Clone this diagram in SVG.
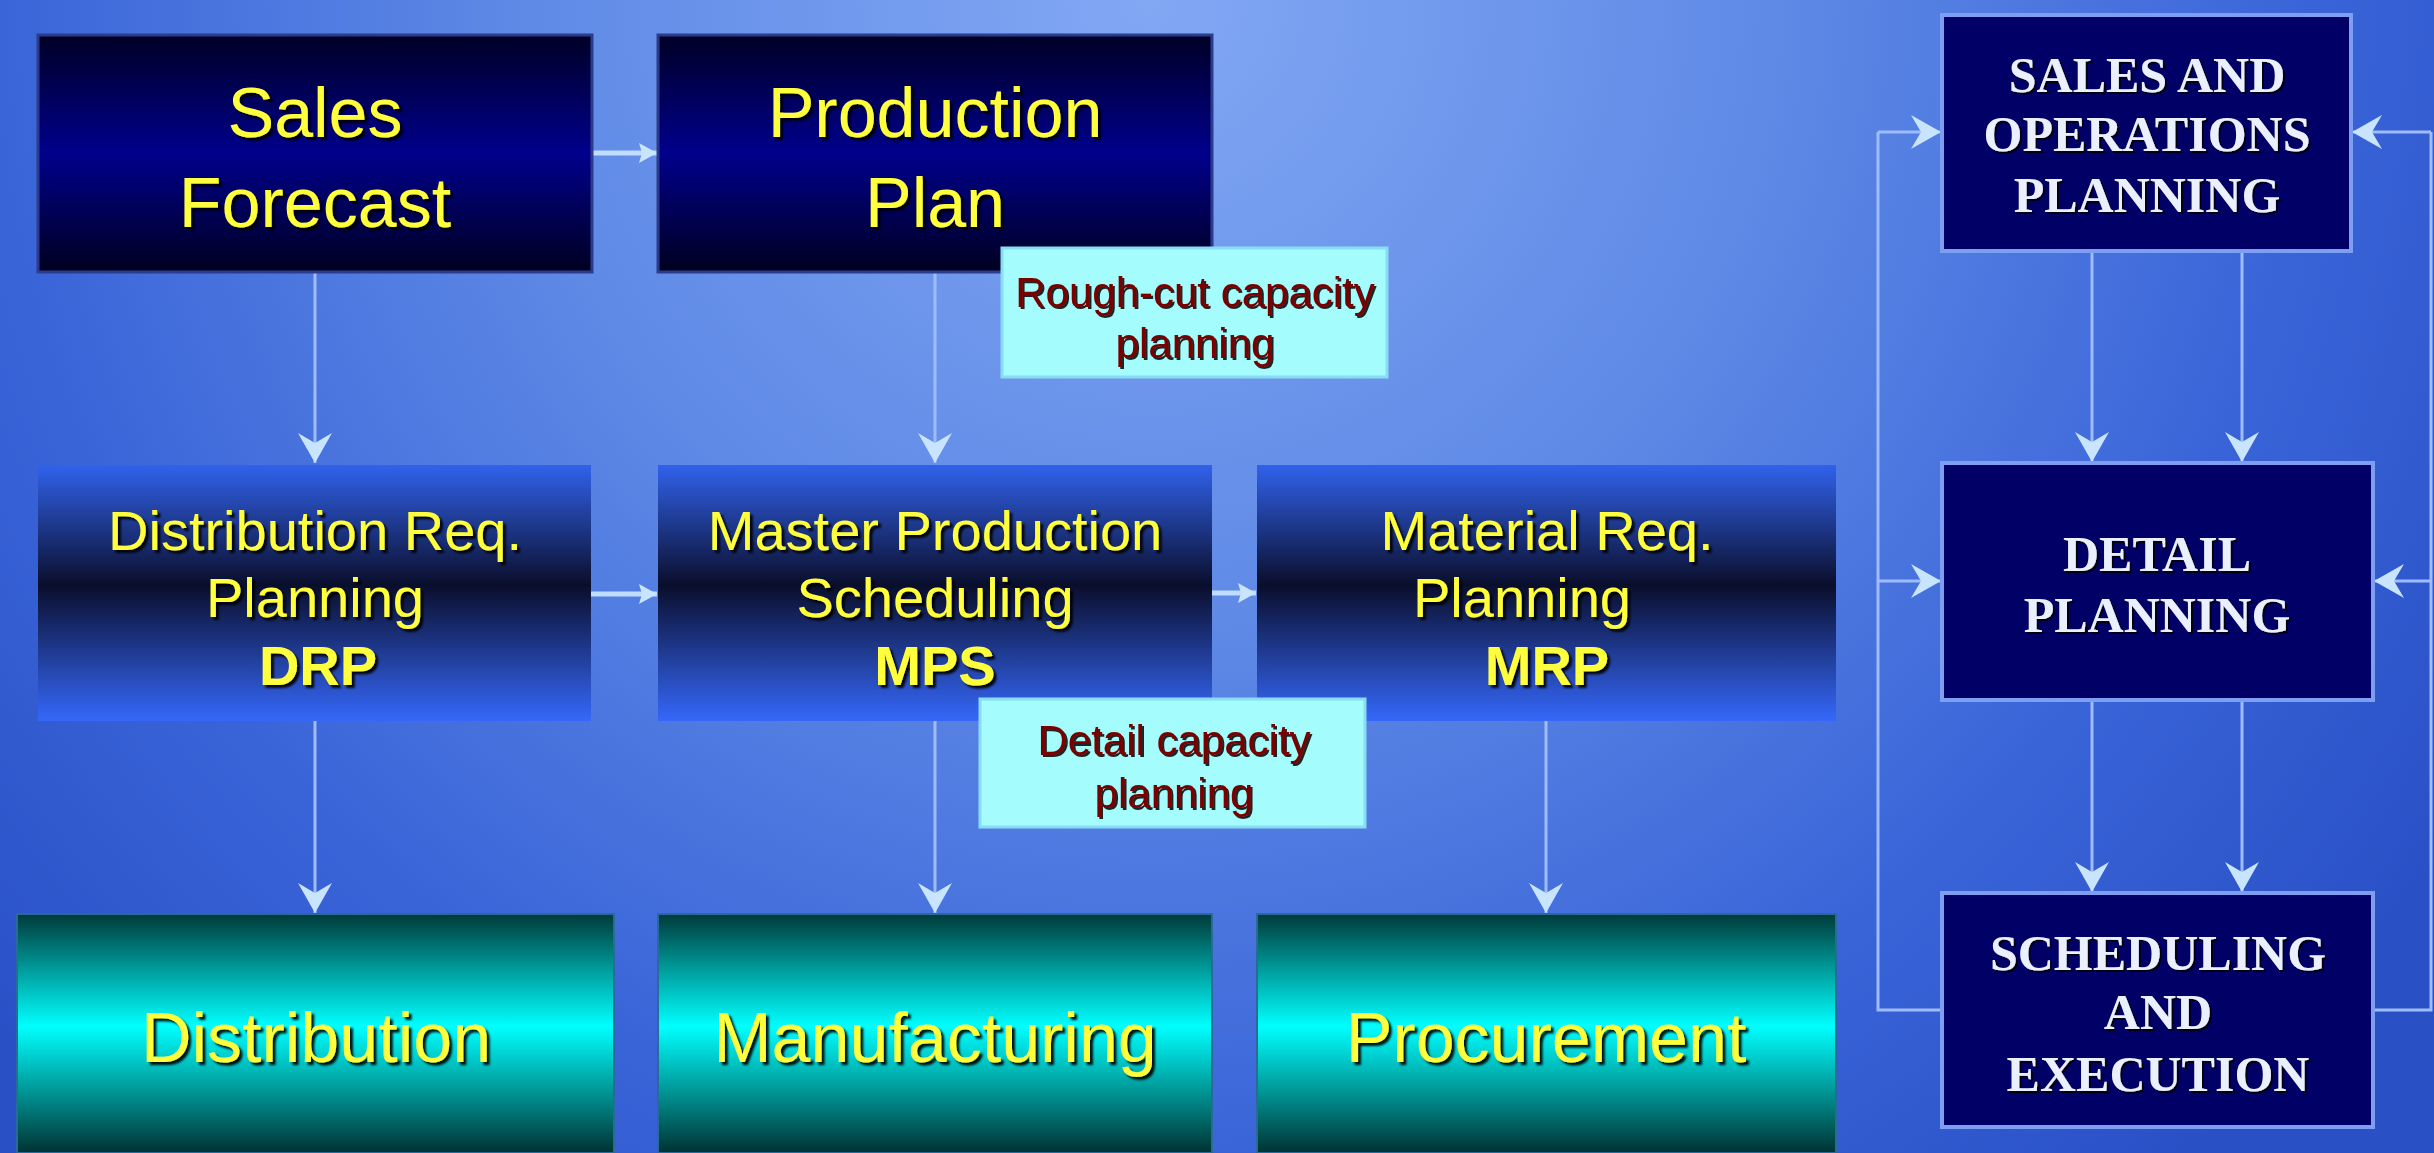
<svg xmlns="http://www.w3.org/2000/svg" width="2434" height="1153" viewBox="0 0 2434 1153">
<defs>
<radialGradient id="bg" gradientUnits="userSpaceOnUse" cx="1150" cy="0" r="1550">
<stop offset="0" stop-color="#82a8f4"/>
<stop offset="0.4" stop-color="#5f8ae6"/>
<stop offset="0.75" stop-color="#3964d8"/>
<stop offset="1" stop-color="#2a50c6"/>
</radialGradient>
<linearGradient id="g1" x1="0" y1="0" x2="0" y2="1">
<stop offset="0" stop-color="#000026"/>
<stop offset="0.5" stop-color="#00008c"/>
<stop offset="1" stop-color="#000020"/>
</linearGradient>
<linearGradient id="g2" x1="0" y1="0" x2="0" y2="1">
<stop offset="0" stop-color="#3162ec"/>
<stop offset="0.47" stop-color="#0a0e2c"/>
<stop offset="1" stop-color="#3568fa"/>
</linearGradient>
<linearGradient id="g3" x1="0" y1="0" x2="0" y2="1">
<stop offset="0" stop-color="#003a3a"/>
<stop offset="0.47" stop-color="#00ffff"/>
<stop offset="1" stop-color="#003232"/>
</linearGradient>
<filter id="sh" x="-10%" y="-20%" width="130%" height="150%">
<feDropShadow dx="3" dy="3" stdDeviation="0.8" flood-color="#000000" flood-opacity="0.9"/>
</filter>
<filter id="sh2" x="-10%" y="-20%" width="130%" height="150%">
<feDropShadow dx="2" dy="2" stdDeviation="0.6" flood-color="#000000" flood-opacity="0.85"/>
</filter>
<marker id="stealth" markerUnits="userSpaceOnUse" viewBox="-31 -18 32 36" markerWidth="32" markerHeight="36" refX="0" refY="0" orient="auto">
<path d="M0,0 L-30,-17 L-20,0 L-30,17 Z" fill="#c8e4ff"/>
</marker>
<marker id="tri" markerUnits="userSpaceOnUse" viewBox="-19 -11 20 22" markerWidth="20" markerHeight="22" refX="0" refY="0" orient="auto">
<path d="M0,0 L-18,-10 L-15,0 L-18,10 Z" fill="#c8e4ff"/>
</marker>
</defs>
<style>
.sans{font-family:"Liberation Sans",Arial,sans-serif;}
.ylw{fill:#ffff3c;text-anchor:middle;filter:url(#sh);}
.big{font-size:70px;}
.mid{font-size:56px;}
.bold{font-weight:bold;}
.serif{font-family:"Liberation Serif","Times New Roman",serif;font-weight:bold;font-size:50px;fill:#eaf0ff;text-anchor:middle;filter:url(#sh2);}
.cap{font-size:42px;fill:#7a0000;text-anchor:middle;filter:url(#sh2);}
.rbox{fill:#000066;stroke:#7e9ef2;stroke-width:4;}
.cbox{fill:#a4fcfc;stroke:#88ddf4;stroke-width:3;}
.ln{fill:none;stroke:#9ebcff;stroke-width:3;}
.lnv{fill:none;stroke:#9ebcff;stroke-width:3;marker-end:url(#stealth);}
.lnh{fill:none;stroke:#c0dcff;stroke-width:5;marker-end:url(#tri);}
</style>
<rect x="0" y="0" width="2434" height="1153" fill="url(#bg)"/>

<g id="connectors">
<line class="lnh" x1="592" y1="153" x2="657" y2="153"/>
<line class="lnh" x1="591" y1="594" x2="657" y2="594"/>
<line class="lnh" x1="1212" y1="593" x2="1256" y2="593"/>
<line class="lnv" x1="315" y1="272" x2="315" y2="463"/>
<line class="lnv" x1="935" y1="272" x2="935" y2="463"/>
<line class="lnv" x1="315" y1="721" x2="315" y2="913"/>
<line class="lnv" x1="935" y1="721" x2="935" y2="913"/>
<line class="lnv" x1="1546" y1="721" x2="1546" y2="913"/>
<line class="lnv" x1="2092" y1="251" x2="2092" y2="462"/>
<line class="lnv" x1="2242" y1="251" x2="2242" y2="462"/>
<line class="lnv" x1="2092" y1="700" x2="2092" y2="892"/>
<line class="lnv" x1="2242" y1="700" x2="2242" y2="892"/>
<polyline class="ln" points="1942,1010 1878,1010 1878,132"/>
<line class="lnv" x1="1878" y1="132" x2="1941" y2="132"/>
<line class="lnv" x1="1878" y1="581" x2="1941" y2="581"/>
<polyline class="ln" points="2373,1010 2431,1010 2431,132"/>
<line class="lnv" x1="2431" y1="132" x2="2352" y2="132"/>
<line class="lnv" x1="2431" y1="581" x2="2374" y2="581"/>
</g>

<g id="sales-forecast">
<rect x="38" y="35" width="554" height="237" fill="url(#g1)" stroke="#2c3c8c" stroke-width="3"/>
<text class="sans ylw big" x="315" y="137">Sales</text>
<text class="sans ylw big" x="315" y="227">Forecast</text>
</g>
<g id="production-plan">
<rect x="658" y="35" width="554" height="237" fill="url(#g1)" stroke="#2c3c8c" stroke-width="3"/>
<text class="sans ylw big" x="935" y="137">Production</text>
<text class="sans ylw big" x="935" y="227">Plan</text>
</g>
<g id="rough-cut">
<rect class="cbox" x="1002" y="248" width="385" height="129"/>
<text class="sans cap" x="1195" y="307">Rough-cut capacity</text>
<text class="sans cap" x="1195" y="358">planning</text>
</g>

<g id="drp">
<rect x="38" y="465" width="553" height="256" fill="url(#g2)"/>
<text class="sans ylw mid" x="315" y="550">Distribution Req.</text>
<text class="sans ylw mid" x="315" y="617">Planning</text>
<text class="sans ylw mid bold" x="318" y="685">DRP</text>
</g>
<g id="mps">
<rect x="658" y="465" width="554" height="256" fill="url(#g2)"/>
<text class="sans ylw mid" x="935" y="550">Master Production</text>
<text class="sans ylw mid" x="935" y="617">Scheduling</text>
<text class="sans ylw mid bold" x="935" y="685">MPS</text>
</g>
<g id="mrp">
<rect x="1257" y="465" width="579" height="256" fill="url(#g2)"/>
<text class="sans ylw mid" x="1547" y="550">Material Req.</text>
<text class="sans ylw mid" x="1522" y="617">Planning</text>
<text class="sans ylw mid bold" x="1547" y="685">MRP</text>
</g>
<g id="detail-capacity">
<rect class="cbox" x="980" y="699" width="385" height="128"/>
<text class="sans cap" x="1174" y="755">Detail capacity</text>
<text class="sans cap" x="1174" y="808">planning</text>
</g>

<g id="distribution">
<rect x="17" y="914" width="597" height="239" fill="url(#g3)" stroke="#2a6a9a" stroke-width="2"/>
<text class="sans ylw big" x="316" y="1062">Distribution</text>
</g>
<g id="manufacturing">
<rect x="658" y="914" width="554" height="239" fill="url(#g3)" stroke="#2a6a9a" stroke-width="2"/>
<text class="sans ylw big" x="935" y="1062">Manufacturing</text>
</g>
<g id="procurement">
<rect x="1257" y="914" width="579" height="239" fill="url(#g3)" stroke="#2a6a9a" stroke-width="2"/>
<text class="sans ylw big" x="1546" y="1062">Procurement</text>
</g>

<g id="sop">
<rect class="rbox" x="1942" y="15" width="409" height="236"/>
<text class="serif" x="2147" y="92">SALES AND</text>
<text class="serif" x="2147" y="151">OPERATIONS</text>
<text class="serif" x="2147" y="212">PLANNING</text>
</g>
<g id="detail-planning">
<rect class="rbox" x="1942" y="463" width="431" height="237"/>
<text class="serif" x="2157" y="571">DETAIL</text>
<text class="serif" x="2157" y="632">PLANNING</text>
</g>
<g id="scheduling">
<rect class="rbox" x="1942" y="893" width="431" height="234"/>
<text class="serif" x="2158" y="970">SCHEDULING</text>
<text class="serif" x="2158" y="1029">AND</text>
<text class="serif" x="2158" y="1091">EXECUTION</text>
</g>
</svg>
